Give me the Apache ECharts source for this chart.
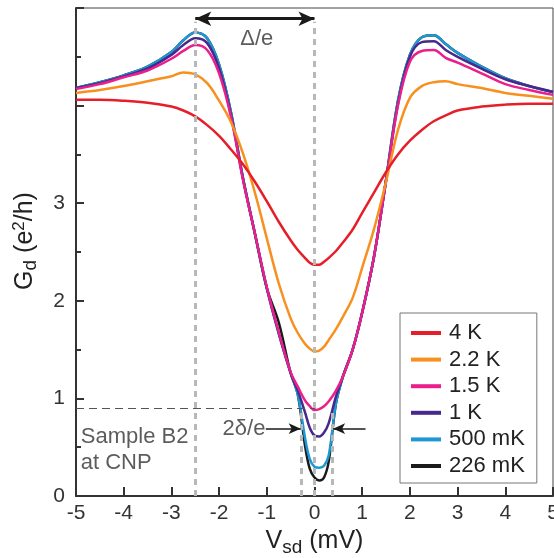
<!DOCTYPE html>
<html>
<head>
<meta charset="utf-8">
<script src="https://cdn.jsdelivr.net/npm/echarts@6/dist/echarts.min.js"></script>
<style>
html,body{margin:0;padding:0;background:#fff;}
#chart{width:554px;height:558px;}
</style>
</head>
<body>
<div id="chart"></div>
<script>
// Source-drain bias (mV)
const vsd = [-5,-4.5,-4,-3.5,-3,-2.75,-2.5,-2.25,-2,-1.75,-1.5,-1.25,-1,-0.75,-0.5,-0.35,-0.2,-0.1,0,0.1,0.2,0.3,0.45,0.6,0.8,1,1.25,1.5,1.75,2,2.25,2.5,2.75,3,3.5,4,4.5,5];
// Differential conductance Gd (e^2/h) per temperature
const g4K   = [4.06,4.06,4.05,4.03,3.99,3.95,3.89,3.80,3.69,3.55,3.40,3.22,3.02,2.81,2.62,2.52,2.44,2.39,2.37,2.37,2.40,2.44,2.51,2.60,2.73,2.90,3.11,3.32,3.50,3.64,3.75,3.84,3.90,3.95,3.99,4.01,4.02,4.02];
const g2_2K = [4.13,4.16,4.20,4.25,4.30,4.34,4.32,4.23,4.05,3.83,3.51,3.11,2.64,2.18,1.82,1.67,1.56,1.51,1.48,1.49,1.53,1.60,1.71,1.84,2.03,2.34,2.74,3.22,3.75,4.08,4.20,4.24,4.25,4.22,4.18,4.13,4.10,4.07];
const g1_5K = [4.17,4.22,4.29,4.36,4.48,4.56,4.62,4.57,4.33,3.88,3.24,2.69,2.14,1.68,1.27,1.12,0.98,0.92,0.88,0.89,0.92,0.97,1.08,1.23,1.50,1.88,2.46,3.23,4.00,4.45,4.56,4.57,4.49,4.44,4.33,4.22,4.16,4.11];
const g1K   = [4.18,4.23,4.30,4.38,4.52,4.62,4.69,4.64,4.38,3.90,3.25,2.69,2.13,1.67,1.26,1.08,0.86,0.70,0.62,0.61,0.65,0.75,1.02,1.23,1.50,1.88,2.46,3.23,4.02,4.50,4.65,4.66,4.57,4.50,4.38,4.27,4.20,4.14];
const g500mK= [4.18,4.24,4.31,4.40,4.55,4.67,4.75,4.69,4.42,3.93,3.26,2.69,2.13,1.66,1.26,1.04,0.60,0.38,0.30,0.29,0.31,0.42,0.95,1.23,1.50,1.88,2.46,3.24,4.05,4.52,4.70,4.72,4.63,4.54,4.40,4.28,4.20,4.14];
const g226mK= [4.18,4.24,4.31,4.40,4.55,4.67,4.75,4.69,4.42,3.93,3.26,2.69,2.13,1.78,1.26,1.04,0.52,0.28,0.19,0.16,0.19,0.36,0.95,1.23,1.50,1.88,2.46,3.24,4.05,4.52,4.70,4.72,4.63,4.54,4.40,4.28,4.20,4.14];
// Legend / series names and colours
const seriesNames = ['4 K','2.2 K','1.5 K','1 K','500 mK','226 mK'];
const seriesValues = [g4K, g2_2K, g1_5K, g1K, g500mK, g226mK];
const seriesColors = ['#e61e2a','#f7901e','#ea1f8c','#47288c','#1e98d4','#1a1a1a'];
// Axis ticks
const xTicks = [-5,-4,-3,-2,-1,0,1,2,3,4,5];
const yTickLabels = [0,1,2,3];

const FONT = 'Liberation Sans, Arial, sans-serif';
const chart = echarts.init(document.getElementById('chart'), null, {renderer:'canvas'});

const lineSeries = [];
for (let k = seriesNames.length - 1; k >= 0; k--) {
  lineSeries.push({
    name: seriesNames[k],
    type: 'line',
    showSymbol: false,
    smooth: 0.35,
    lineStyle: {width: 2.5, color: seriesColors[k]},
    itemStyle: {color: seriesColors[k]},
    data: vsd.map((x, i) => [x, seriesValues[k][i]]),
    z: 3
  });
}

const grayDash = {color: '#b8b8b8', width: 3, type: [6, 5]};
const annoSeries = {
  name: 'annotations',
  type: 'line',
  data: [],
  silent: true,
  z: 2,
  markLine: {
    silent: true,
    animation: false,
    label: {show: false},
    symbol: ['none', 'none'],
    data: [
      [{coord: [-2.5, 0], lineStyle: grayDash}, {coord: [-2.5, 4.86]}],
      [{coord: [0, 0], lineStyle: grayDash}, {coord: [0, 4.86]}],
      [{coord: [-0.28, 0], lineStyle: grayDash}, {coord: [-0.28, 0.9]}],
      [{coord: [0.38, 0], lineStyle: grayDash}, {coord: [0.38, 0.9]}],
      [{coord: [-5, 0.9], lineStyle: {color: '#555', width: 1, type: [8, 5]}}, {coord: [0.02, 0.9]}],
      [{coord: [-2.5, 4.89], symbol: 'arrow', symbolSize: [11, 16], lineStyle: {color: '#1a1a1a', width: 3, type: 'solid'}},
       {coord: [0, 4.89], symbol: 'arrow', symbolSize: [11, 16]}],
      [{coord: [-1.02, 0.69], symbol: 'none', lineStyle: {color: '#1a1a1a', width: 1.5, type: 'solid'}},
       {coord: [-0.29, 0.69], symbol: 'arrow', symbolSize: [8, 12]}],
      [{coord: [1.07, 0.69], symbol: 'none', lineStyle: {color: '#1a1a1a', width: 1.5, type: 'solid'}},
       {coord: [0.39, 0.69], symbol: 'arrow', symbolSize: [8, 12]}]
    ]
  }
};

const textSeries = {
  name: 'texts',
  type: 'scatter',
  symbolSize: 0,
  silent: true,
  z: 5,
  data: [
    {value: [-1.21, 4.68], label: {formatter: 'Δ/e', position: 'inside'}},
    {value: [-1.03, 0.69], label: {formatter: '2δ/e', position: 'left', distance: 0}},
    {value: [-4.9, 0.47], label: {formatter: 'Sample B2\nat CNP', position: 'right', distance: 0, lineHeight: 26}}
  ],
  label: {show: true, fontFamily: FONT, fontSize: 22, color: '#333'}
};

const option = {
  animation: false,
  backgroundColor: '#fff',
  grid: {left: 76, right: 1, top: 8, bottom: 62, show: true, borderColor: '#444', borderWidth: 1,
         containLabel: false, outerBoundsMode: 'none'},
  legend: {
    data: seriesNames,
    orient: 'vertical',
    left: 400,
    top: 313,
    padding: [9, 12, 6, 11],
    itemWidth: 30,
    itemHeight: 4,
    itemGap: 4.6,
    icon: 'rect',
    backgroundColor: '#fff',
    borderColor: '#777',
    borderWidth: 1,
    borderRadius: 0,
    textStyle: {fontFamily: FONT, fontSize: 22, color: '#222', padding: [0, 0, 0, 3]},
    selectedMode: false
  },
  xAxis: {
    type: 'value',
    min: -5, max: 5, interval: 1,
    name: 'V{sub|sd} (mV)',
    nameLocation: 'middle',
    nameGap: 30,
    nameTextStyle: {
      fontFamily: FONT, fontSize: 25, color: '#222',
      rich: {sub: {fontSize: 19, verticalAlign: 'bottom', padding: [12, 0, 0, 0], fontFamily: FONT, color: '#222'}}
    },
    axisLine: {onZero: false, lineStyle: {color: '#333', width: 2}},
    axisTick: {inside: true, length: 9, lineStyle: {color: '#333', width: 2}},
    splitLine: {show: false},
    axisLabel: {
      fontFamily: FONT, fontSize: 21, color: '#333', margin: 7,
      formatter: v => (xTicks.indexOf(v) >= 0 ? String(v) : '')
    }
  },
  yAxis: {
    type: 'value',
    min: 0, max: 5, interval: 1,
    name: 'G{sub|d} (e{sup|2}/h)',
    nameLocation: 'middle',
    nameGap: 36,
    nameTextStyle: {
      fontFamily: FONT, fontSize: 25, color: '#222',
      padding: [0, 0, 0, 22],
      rich: {
        sub: {fontSize: 19, verticalAlign: 'bottom', padding: [10, 0, 0, 0], fontFamily: FONT, color: '#222'},
        sup: {fontSize: 17, verticalAlign: 'top', padding: [0, 0, 10, 0], fontFamily: FONT, color: '#222'}
      }
    },
    axisLine: {onZero: false, lineStyle: {color: '#333', width: 2}},
    axisTick: {inside: true, length: 8, lineStyle: {color: '#333', width: 2}},
    minorTick: {show: true, splitNumber: 2, length: 5, lineStyle: {color: '#333', width: 2}},
    splitLine: {show: false},
    minorSplitLine: {show: false},
    axisLabel: {
      fontFamily: FONT, fontSize: 21, color: '#333', margin: 11,
      formatter: v => (yTickLabels.indexOf(v) >= 0 ? String(v) : '')
    }
  },
  series: [annoSeries].concat(lineSeries).concat([textSeries])
};

chart.setOption(option);
</script>
</body>
</html>
